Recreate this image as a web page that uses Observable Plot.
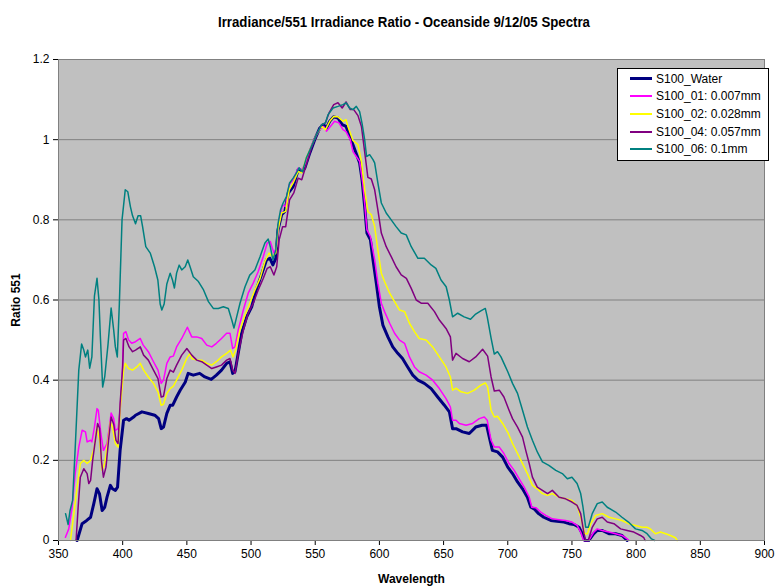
<!DOCTYPE html>
<html>
<head>
<meta charset="utf-8">
<script src="https://cdn.jsdelivr.net/npm/d3@7"></script>
<script src="https://cdn.jsdelivr.net/npm/@observablehq/plot@0.6"></script>
<style>
  html, body { margin: 0; padding: 0; background: #ffffff; }
  #wrap { position: relative; width: 775px; height: 587px; font-family: "Liberation Sans", Arial, sans-serif; }
  #wrap svg { font-family: "Liberation Sans", Arial, sans-serif; }
  g[aria-label="x-axis label"] text, g[aria-label="y-axis label"] text { font-weight: bold; }
  #legend { position: absolute; left: 617px; top: 68px; width: 150px; background: #fff; border: 1px solid #000; padding: 1px 0 2px 0; font-size: 12px; color: #000; }
  #legend .row { display: flex; align-items: center; height: 17.6px; }
  #legend .sw { width: 22px; margin-left: 12px; margin-right: 4px; }
</style>
</head>
<body>
<div id="wrap"></div>
<script>
const titleText = "Irradiance/551 Irradiance Ratio - Oceanside 9/12/05 Spectra";
const xLabel = "Wavelength";
const yLabel = "Ratio 551";
const xTicks = [350, 400, 450, 500, 550, 600, 650, 700, 750, 800, 850, 900];
const yTicks = [0, 0.2, 0.4, 0.6, 0.8, 1, 1.2];
const yTickLabels = ["0", "0.2", "0.4", "0.6", "0.8", "1", "1.2"];
const seriesNames = ["S100_Water", "S100_01: 0.007mm", "S100_02: 0.028mm", "S100_04: 0.057mm", "S100_06: 0.1mm"];
const seriesColors = ["#000080", "#FF00FF", "#FFFF00", "#800080", "#008080"];
const seriesWidths = [3, 1.5, 1.5, 1.5, 1.5];

// [wavelength, ratio]
const water = [[364.5,0],[368.4,0.042],[372,0.05],[375,0.058],[377.5,0.092],[380,0.129],[381.9,0.117],[384,0.075],[386,0.083],[387.8,0.108],[390.4,0.1375],[392,0.129],[394.3,0.125],[396,0.133],[398,0.225],[400.7,0.30],[403,0.304],[405,0.30],[408.5,0.308],[410,0.3125],[415,0.321],[420,0.317],[425,0.3125],[428,0.304],[430,0.279],[431.8,0.283],[434.4,0.317],[437,0.3375],[439,0.3375],[442,0.358],[444.8,0.375],[448.7,0.395],[451,0.417],[455,0.4125],[460,0.417],[464,0.408],[469,0.402],[473,0.4125],[477,0.425],[481,0.442],[483.6,0.446],[485.7,0.417],[487.5,0.421],[490,0.467],[492.7,0.517],[496.6,0.558],[500.5,0.583],[504,0.625],[508,0.662],[512,0.70],[514.7,0.704],[517,0.6875],[519.3,0.704],[521,0.775],[523.8,0.8125],[526.3,0.821],[529,0.867],[532.8,0.883],[536.7,0.925],[539.3,0.921],[541.9,0.929],[545.8,0.967],[549.6,1.0],[553.5,1.029],[556.6,1.0375],[558.7,1.029],[561.3,1.046],[564.4,1.057],[567.7,1.054],[571,1.0375],[574,1.033],[577,1.008],[579.4,0.9875],[582,0.965],[584.6,0.942],[586.5,0.9],[588.5,0.833],[590.3,0.767],[593,0.75],[595,0.70],[597.6,0.642],[600,0.583],[602.7,0.5375],[606.6,0.508],[610.4,0.483],[614.3,0.467],[618,0.454],[622,0.433],[626,0.4125],[630,0.40],[635,0.392],[640.3,0.379],[645.4,0.358],[650.6,0.3375],[654.5,0.321],[657,0.279],[659.7,0.279],[664.8,0.271],[670,0.267],[675,0.283],[680,0.2875],[683.5,0.2875],[685.6,0.258],[688,0.225],[692,0.221],[696,0.208],[700,0.183],[703.7,0.167],[707.6,0.146],[711.5,0.129],[715.3,0.108],[718,0.083],[720.5,0.079],[724,0.067],[728,0.058],[733.5,0.05],[738.3,0.048],[743.8,0.046],[747.7,0.042],[751.6,0.04],[755.5,0.033],[758,0.017],[760,0],[763,0],[767,0.017],[769.7,0.025],[773.6,0.025],[778.8,0.017],[784,0.017],[789,0.0125],[793,0]];

const s01 = [[355.4,0.008],[358,0.029],[360.6,0.083],[363,0.167],[365.8,0.233],[368.4,0.275],[371,0.271],[372.3,0.246],[375,0.25],[376,0.246],[378,0.283],[380,0.329],[381,0.325],[383,0.267],[385,0.225],[387.8,0.242],[389.6,0.283],[391,0.318],[393,0.304],[394.3,0.275],[396.4,0.279],[398,0.325],[399.5,0.40],[400.7,0.517],[402.5,0.521],[404.6,0.50],[407,0.492],[410,0.496],[413.7,0.504],[416,0.4875],[420,0.471],[424,0.446],[427.5,0.425],[430,0.392],[431.8,0.40],[434.4,0.442],[437,0.458],[439.5,0.46],[442,0.483],[446,0.504],[450.4,0.532],[453.8,0.508],[457.7,0.508],[461.6,0.504],[465.5,0.4875],[469.4,0.483],[473,0.492],[477,0.504],[481,0.517],[483.6,0.517],[485.7,0.479],[487.5,0.483],[490,0.525],[494,0.575],[497.8,0.617],[501.7,0.642],[505.6,0.671],[509.5,0.708],[512.6,0.742],[515,0.746],[517.8,0.717],[520,0.733],[521.9,0.80],[524.6,0.8375],[527,0.833],[529.7,0.8875],[532.8,0.90],[536.7,0.929],[539.5,0.925],[542.7,0.942],[545.8,0.975],[549.6,1.004],[553.5,1.025],[556.6,1.033],[558.7,1.021],[561.8,1.033],[565,1.046],[568.5,1.042],[571.6,1.025],[574,1.02],[577.3,1.0],[579.4,0.97],[582,0.958],[584.6,0.946],[587,0.892],[588.5,0.842],[590.3,0.775],[593,0.758],[596.3,0.70],[598.8,0.642],[601.5,0.592],[604,0.571],[608,0.542],[611.8,0.517],[615.7,0.50],[619.6,0.492],[623.4,0.458],[627.3,0.433],[631,0.421],[636.4,0.4125],[641.5,0.40],[646.7,0.379],[651.9,0.354],[655.3,0.333],[657,0.30],[659.7,0.30],[662.3,0.292],[667.5,0.2875],[672.6,0.292],[677.8,0.304],[681.7,0.308],[684,0.30],[687,0.25],[689.5,0.233],[693.4,0.233],[697,0.217],[701,0.192],[705,0.175],[708.9,0.154],[712.8,0.133],[716.7,0.108],[718.7,0.083],[721.8,0.082],[725.7,0.071],[729.6,0.0625],[734.7,0.054],[740,0.052],[745,0.05],[750,0.046],[754,0.0375],[756.8,0.021],[759,0],[763,0],[767,0.021],[769.7,0.029],[773.6,0.025],[778.8,0.021],[784,0.017],[789,0.0125],[793,0.004],[794.4,0]];

const s02 = [[359.3,0],[362,0.067],[364.5,0.133],[367,0.192],[369.7,0.20],[372.3,0.192],[375,0.2],[378,0.233],[380,0.283],[382,0.25],[384,0.175],[386,0.192],[388.6,0.25],[390.4,0.296],[392,0.283],[394.3,0.242],[396.4,0.233],[398,0.325],[400.7,0.425],[402,0.442],[404.6,0.429],[407.7,0.425],[411,0.433],[413.7,0.442],[416.3,0.425],[420,0.408],[424,0.392],[427.5,0.371],[430,0.3375],[431.8,0.34],[434.4,0.367],[437,0.379],[439.5,0.385],[442,0.40],[446,0.425],[450,0.455],[452.5,0.467],[453.8,0.454],[457.7,0.45],[461.6,0.45],[465.5,0.442],[469.4,0.4375],[473,0.446],[477,0.458],[481,0.467],[484,0.475],[486,0.458],[488,0.475],[491.4,0.525],[495.3,0.5625],[499,0.592],[503,0.625],[507,0.654],[510.8,0.696],[514,0.717],[516.7,0.708],[519.3,0.717],[521,0.775],[523.8,0.817],[527,0.821],[529.7,0.875],[532.8,0.892],[536.7,0.921],[539.5,0.917],[543,0.954],[547,0.983],[551,1.0125],[555,1.033],[558,1.025],[561.3,1.046],[564.4,1.058],[567.7,1.057],[571.6,1.046],[574,1.05],[575.5,1.033],[577.5,1.015],[579.4,0.998],[583.3,0.9875],[586,0.946],[588.5,0.875],[591,0.821],[593.7,0.8125],[596.3,0.783],[598.8,0.725],[601.5,0.667],[604,0.646],[608,0.617],[611.8,0.596],[615.7,0.575],[619.6,0.571],[623.4,0.542],[627.3,0.521],[631,0.504],[636.4,0.50],[641.5,0.483],[646.7,0.458],[651.9,0.433],[655.3,0.408],[657,0.375],[659.7,0.38],[663.6,0.371],[668.7,0.367],[673.9,0.375],[679,0.3875],[682.5,0.393],[684.3,0.383],[687,0.325],[689.5,0.308],[692,0.31],[696,0.292],[700,0.27],[703.7,0.242],[707.6,0.217],[711.5,0.192],[715.3,0.167],[719.2,0.1375],[723,0.129],[727,0.117],[731,0.1125],[734.7,0.117],[740,0.108],[745,0.104],[750,0.10],[754,0.0875],[756.8,0.058],[760,0.017],[762,0.017],[764.6,0.042],[768.4,0.0625],[773.6,0.067],[778.8,0.058],[784,0.054],[789,0.05],[794,0.042],[799.5,0.0375],[804.6,0.033],[808.5,0.033],[811,0.029],[815,0.017],[819,0.021],[823,0.017],[826.7,0.0125],[830.6,0.007],[832,0]];

const s04 = [[363.7,0],[365.3,0.083],[367,0.158],[369.7,0.179],[372.3,0.167],[373.6,0.142],[375,0.15],[376.6,0.20],[378.7,0.25],[380.5,0.292],[382,0.28],[383.4,0.20],[385,0.158],[387,0.183],[389,0.25],[391,0.308],[393,0.29],[394.8,0.25],[396.4,0.242],[398,0.342],[400,0.433],[400.7,0.50],[402.5,0.504],[405,0.483],[407.7,0.471],[410,0.475],[413.7,0.483],[416.3,0.4625],[420,0.45],[424,0.425],[427.5,0.404],[430,0.358],[431.8,0.36],[434.4,0.404],[437,0.425],[439.5,0.42],[442,0.4375],[446,0.4625],[450,0.479],[453.8,0.4625],[457.7,0.45],[461.6,0.446],[465.5,0.4375],[469.4,0.429],[473,0.433],[477,0.4375],[481,0.45],[483.6,0.454],[485.7,0.425],[487.5,0.417],[490,0.467],[494,0.525],[497.8,0.567],[501.7,0.592],[505.6,0.625],[509.5,0.654],[512.6,0.679],[515,0.683],[517.8,0.6625],[520,0.683],[521.9,0.75],[524.6,0.783],[527,0.783],[530,0.85],[533.3,0.867],[536.7,0.904],[539.5,0.9],[543,0.9375],[547,0.979],[551,1.0125],[555,1.0375],[558,1.042],[560.8,1.067],[564.4,1.0875],[567.7,1.092],[571,1.079],[574,1.094],[577.3,1.075],[580,1.075],[583.3,1.06],[586,1.033],[588.5,0.97],[591,0.906],[593.7,0.902],[596.3,0.875],[598.8,0.825],[601.5,0.767],[605.3,0.733],[609.2,0.708],[613,0.683],[617,0.6625],[621,0.654],[624.8,0.629],[628.7,0.60],[632.5,0.592],[637.7,0.592],[642.9,0.571],[646.7,0.55],[651.9,0.529],[655.3,0.508],[657,0.45],[659.7,0.467],[664.8,0.454],[670,0.446],[675,0.458],[680.4,0.477],[684.3,0.46],[687,0.408],[689.5,0.373],[693.4,0.375],[697,0.358],[701,0.325],[703.7,0.304],[707.6,0.283],[711.5,0.258],[714,0.225],[716.7,0.192],[719.2,0.158],[723,0.133],[727,0.125],[731,0.117],[734.7,0.125],[740,0.108],[745,0.104],[750,0.096],[754,0.0875],[756.8,0.067],[759.4,0.017],[760.7,0],[762.7,0],[765.8,0.033],[769.7,0.054],[773.6,0.058],[777.5,0.046],[782.7,0.042],[787.9,0.029],[793,0.025],[798.2,0.021],[803.4,0.0125],[806,0.007],[807,0]];

const s06 = [[355.5,0.067],[357.5,0.04],[359,0.075],[361,0.1],[363,0.23],[365.8,0.425],[368,0.49],[369.7,0.475],[371,0.458],[372.8,0.475],[374.3,0.43],[376,0.458],[378,0.61],[380,0.654],[381.5,0.60],[382.6,0.51],[384.4,0.383],[386,0.408],[388.6,0.49],[391,0.58],[393,0.525],[394.3,0.483],[395.8,0.458],[397.4,0.59],[399.5,0.80],[402,0.875],[404,0.87],[406,0.833],[407.7,0.81],[410,0.79],[412,0.81],[414,0.81],[415.5,0.783],[418,0.733],[421.5,0.717],[424.8,0.683],[427.4,0.65],[429.2,0.59],[430.5,0.575],[432.3,0.59],[434.4,0.64],[437,0.667],[438.8,0.65],[440.3,0.63],[442,0.667],[444,0.687],[446,0.675],[448.7,0.683],[450.7,0.70],[452.5,0.683],[455,0.658],[459,0.646],[463,0.625],[466.8,0.596],[470.6,0.579],[474.5,0.579],[478.4,0.583],[482.3,0.579],[485,0.55],[486.7,0.53],[488.8,0.558],[491.4,0.592],[495.3,0.633],[499,0.662],[503,0.675],[507,0.708],[510.8,0.742],[513.4,0.752],[515,0.733],[517,0.70],[519.3,0.725],[521,0.79],[523,0.825],[525,0.842],[527.6,0.858],[530,0.892],[532.8,0.904],[535.4,0.917],[537.4,0.93],[540,0.92],[543,0.954],[547,0.983],[551,1.0125],[555,1.0375],[558,1.042],[560,1.0625],[563.9,1.079],[567.7,1.083],[571.6,1.0875],[574,1.092],[576.8,1.079],[579.4,1.075],[582,1.083],[584.6,1.07],[586.5,1.04],[588.5,1.0],[590,0.958],[592.4,0.9625],[595,0.95],[596.3,0.942],[598.8,0.892],[601.5,0.842],[605.3,0.817],[609.2,0.80],[613,0.783],[617,0.767],[620.9,0.7625],[624.8,0.733],[630,0.704],[635,0.704],[640.3,0.6875],[644,0.679],[648,0.65],[652,0.633],[654.5,0.60],[657,0.558],[661,0.567],[666,0.558],[671,0.552],[675,0.565],[679,0.573],[682.5,0.579],[684,0.558],[687,0.505],[689.5,0.465],[692,0.471],[694.7,0.458],[698,0.435],[700,0.421],[703.7,0.392],[707.6,0.367],[711.5,0.325],[715.3,0.283],[719.2,0.25],[723,0.221],[727,0.196],[732,0.1875],[737.4,0.175],[742.5,0.167],[746.4,0.154],[750,0.158],[754,0.142],[756.8,0.117],[758.6,0.083],[760.7,0.033],[762.7,0.033],[765.8,0.067],[769.7,0.092],[773.6,0.096],[777.5,0.083],[784,0.071],[789,0.058],[794,0.046],[799.5,0.029],[804.6,0.025],[808.5,0.017],[812,0.004],[814.5,0]];

const allSeries = [water, s01, s02, s04, s06];

const lineMarks = allSeries.map((data, i) =>
  Plot.line(data, {x: d => d[0], y: d => d[1], stroke: seriesColors[i], strokeWidth: seriesWidths[i], strokeLinejoin: "round"})
);

const chart = Plot.plot({
  width: 775,
  height: 587,
  marginLeft: 58,
  marginRight: 11,
  marginTop: 59,
  marginBottom: 47,
  style: {fontSize: "12px", fontFamily: "'Liberation Sans', Arial, sans-serif", color: "#000", background: "#fff"},
  x: {domain: [350, 900], ticks: xTicks, tickFormat: d => String(d), label: xLabel, labelAnchor: "center", labelOffset: 42, labelArrow: "none", tickSize: 5, tickPadding: 4},
  y: {domain: [0, 1.2], ticks: yTicks, tickFormat: d => yTickLabels[yTicks.indexOf(d)], label: yLabel, labelAnchor: "center", labelOffset: 47, labelArrow: "none", tickSize: 5, tickPadding: 4},
  marks: [
    Plot.frame({fill: "#C0C0C0", stroke: "#808080"}),
    Plot.gridY(yTicks.slice(1, -1), {stroke: "#808080", strokeOpacity: 1, strokeWidth: 1}),
    ...lineMarks,
    Plot.ruleY([0], {stroke: "#808080"}),
    Plot.ruleX([350], {stroke: "#808080"}),
    Plot.text([titleText], {frameAnchor: "top", dy: -42, dx: -7.5, fontWeight: "bold", fontSize: 14, className: "chart-title"})
  ]
});

const wrap = document.getElementById("wrap");
wrap.appendChild(chart);

// condense the title like the reference's narrow bold face
chart.querySelectorAll(".chart-title text").forEach(t => {
  t.setAttribute("textLength", "372");
  t.setAttribute("lengthAdjust", "spacingAndGlyphs");
});

const legend = document.createElement("div");
legend.id = "legend";
seriesNames.forEach((name, i) => {
  const row = document.createElement("div");
  row.className = "row";
  const sw = document.createElement("div");
  sw.className = "sw";
  sw.style.borderTop = `${seriesWidths[i] === 3 ? 3 : 2}px solid ${seriesColors[i]}`;
  const lab = document.createElement("span");
  lab.textContent = name;
  row.appendChild(sw);
  row.appendChild(lab);
  legend.appendChild(row);
});
wrap.appendChild(legend);
</script>
</body>
</html>
